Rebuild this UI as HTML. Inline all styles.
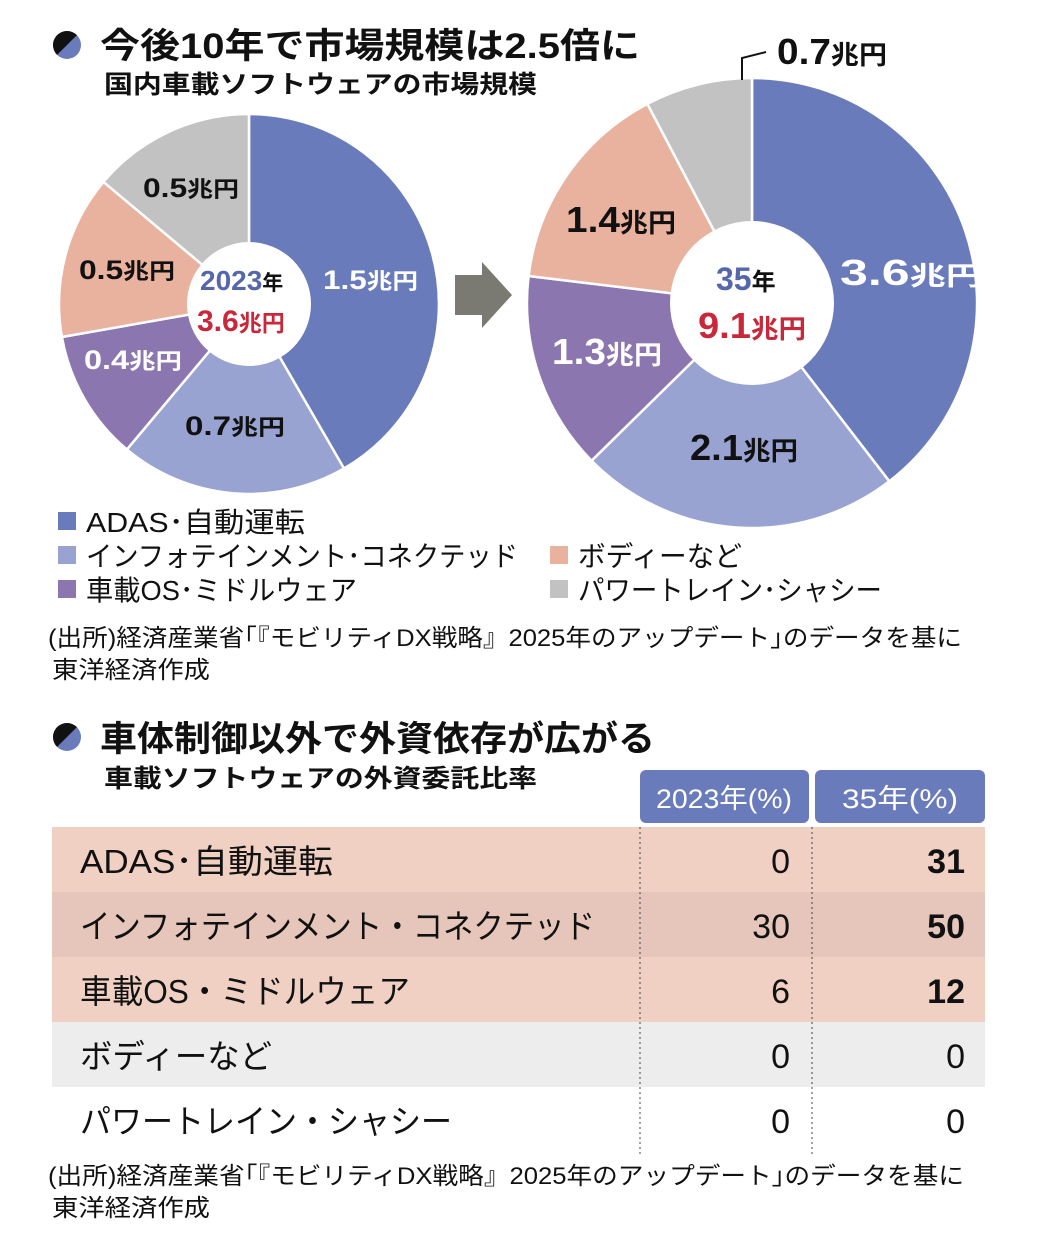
<!DOCTYPE html>
<html><head><meta charset="utf-8"><style>
html,body{margin:0;padding:0;background:#fff;}
body{width:1040px;height:1252px;overflow:hidden;}
svg text{font-family:"Liberation Sans","Noto Sans CJK JP",sans-serif;}
</style></head><body>
<svg width="1040" height="1252" viewBox="0 0 1040 1252" xmlns="http://www.w3.org/2000/svg">
<circle cx="67" cy="45" r="14" fill="#6a7bbb"/>
<path d="M57.1,54.9 A14,14 0 0 1 76.9,35.1 Z" fill="#111"/>
<text x="100" y="58" font-size="35" font-weight="bold" fill="#111" textLength="540" lengthAdjust="spacingAndGlyphs">今後10年で市場規模は2.5倍に</text>
<text x="104" y="93" font-size="25" font-weight="bold" fill="#111" textLength="433" lengthAdjust="spacingAndGlyphs">国内車載ソフトウェアの市場規模</text>

<g stroke="#fff" stroke-width="2.5">
<path d="M249,304 L249,114 A190,190 0 0 1 344,468.5 Z" fill="#6a7bbb"/>
<path d="M249,304 L344,468.5 A190,190 0 0 1 126.9,449.5 Z" fill="#98a3d2"/>
<path d="M249,304 L126.9,449.5 A190,190 0 0 1 61.9,337 Z" fill="#8c76b0"/>
<path d="M249,304 L61.9,337 A190,190 0 0 1 103.5,181.9 Z" fill="#e8b29f"/>
<path d="M249,304 L103.5,181.9 A190,190 0 0 1 249,114 Z" fill="#c2c2c2"/>
</g>
<circle cx="249" cy="304" r="62" fill="#fff"/>
<text x="200" y="290" font-size="28" font-weight="bold" fill="#5566aa">2023<tspan font-size="21" fill="#111">年</tspan></text>
<text x="197" y="331" font-size="30" font-weight="bold" fill="#c8283a">3.6<tspan font-size="23">兆円</tspan></text>
<g font-size="27" font-weight="bold">
<text x="323" y="289" fill="#fff" textLength="95" lengthAdjust="spacingAndGlyphs">1.5<tspan font-size="22">兆円</tspan></text>
<text x="185" y="435" fill="#111" textLength="100" lengthAdjust="spacingAndGlyphs">0.7<tspan font-size="22">兆円</tspan></text>
<text x="84" y="369" fill="#fff" textLength="98" lengthAdjust="spacingAndGlyphs">0.4<tspan font-size="22">兆円</tspan></text>
<text x="79" y="279" fill="#111" textLength="96" lengthAdjust="spacingAndGlyphs">0.5<tspan font-size="22">兆円</tspan></text>
<text x="143" y="197" fill="#111" textLength="96" lengthAdjust="spacingAndGlyphs">0.5<tspan font-size="22">兆円</tspan></text>
</g>

<path d="M455,275 L482,275 L482,262 L512,295 L482,328 L482,315 L455,315 Z" fill="#7a7a72"/>

<g stroke="#fff" stroke-width="2.5">
<path d="M752,303 L752,78 A225,225 0 0 1 889.3,481.3 Z" fill="#6a7bbb"/>
<path d="M752,303 L889.3,481.3 A225,225 0 0 1 591.6,460.7 Z" fill="#98a3d2"/>
<path d="M752,303 L591.6,460.7 A225,225 0 0 1 528.6,276 Z" fill="#8c76b0"/>
<path d="M752,303 L528.6,276 A225,225 0 0 1 647.4,103.9 Z" fill="#e8b29f"/>
<path d="M752,303 L647.4,103.9 A225,225 0 0 1 752,78 Z" fill="#c2c2c2"/>
</g>
<circle cx="752" cy="303" r="82" fill="#fff"/>
<text x="716" y="290" font-size="32" font-weight="bold" fill="#5566aa">35<tspan font-size="24" fill="#111">年</tspan></text>
<text x="698" y="338" font-size="36" font-weight="bold" fill="#c8283a" textLength="108" lengthAdjust="spacingAndGlyphs">9.1<tspan font-size="26">兆円</tspan></text>
<g font-size="36" font-weight="bold">
<text x="840" y="285" fill="#fff" textLength="142" lengthAdjust="spacingAndGlyphs">3.6<tspan font-size="26">兆円</tspan></text>
<text x="690" y="460" fill="#111" textLength="108" lengthAdjust="spacingAndGlyphs">2.1<tspan font-size="26">兆円</tspan></text>
<text x="552" y="364" fill="#fff" textLength="110" lengthAdjust="spacingAndGlyphs">1.3<tspan font-size="26">兆円</tspan></text>
<text x="566" y="232" fill="#111" textLength="110" lengthAdjust="spacingAndGlyphs">1.4<tspan font-size="26">兆円</tspan></text>
<text x="777" y="64" fill="#111" textLength="110" lengthAdjust="spacingAndGlyphs">0.7<tspan font-size="26">兆円</tspan></text>
</g>
<path d="M742,80 L742,58 L766,52" fill="none" stroke="#111" stroke-width="2"/>

<g font-size="28" fill="#111">
<rect x="58" y="512" width="18" height="18" fill="#6a7bbb"/><text x="86" y="532" textLength="219" lengthAdjust="spacingAndGlyphs">ADAS･自動運転</text>
<rect x="58" y="546" width="18" height="18" fill="#98a3d2"/><text x="86" y="566" textLength="432" lengthAdjust="spacingAndGlyphs">インフォテインメント･コネクテッド</text>
<rect x="58" y="580" width="18" height="18" fill="#8c76b0"/><text x="86" y="600" textLength="271" lengthAdjust="spacingAndGlyphs">車載OS･ミドルウェア</text>
<rect x="550" y="546" width="18" height="18" fill="#e8b29f"/><text x="578" y="566" textLength="164" lengthAdjust="spacingAndGlyphs">ボディーなど</text>
<rect x="550" y="580" width="18" height="18" fill="#c2c2c2"/><text x="578" y="600" textLength="304" lengthAdjust="spacingAndGlyphs">パワートレイン･シャシー</text>
</g>
<g font-size="24" fill="#111">
<text x="48" y="646" textLength="914" lengthAdjust="spacingAndGlyphs">(出所)経済産業省｢『モビリティDX戦略』2025年のアップデート｣のデータを基に</text>
<text x="52" y="678" textLength="158" lengthAdjust="spacingAndGlyphs">東洋経済作成</text>
</g>

<circle cx="67" cy="737" r="14" fill="#6a7bbb"/>
<path d="M57.1,746.9 A14,14 0 0 1 76.9,727.1 Z" fill="#111"/>
<text x="100" y="751" font-size="35" font-weight="bold" fill="#111" textLength="555" lengthAdjust="spacingAndGlyphs">車体制御以外で外資依存が広がる</text>
<text x="104" y="787" font-size="25" font-weight="bold" fill="#111" textLength="433" lengthAdjust="spacingAndGlyphs">車載ソフトウェアの外資委託比率</text>

<rect x="640" y="770" width="169" height="53" rx="6" fill="#6a7bbb"/>
<rect x="815" y="770" width="170" height="53" rx="6" fill="#6a7bbb"/>
<text x="724" y="808" font-size="27" fill="#fff" text-anchor="middle" textLength="136" lengthAdjust="spacingAndGlyphs">2023年(%)</text>
<text x="900" y="808" font-size="27" fill="#fff" text-anchor="middle" textLength="116" lengthAdjust="spacingAndGlyphs">35年(%)</text>
<rect x="52" y="827" width="933" height="65" fill="#f0d0c3"/>
<rect x="52" y="892" width="933" height="65" fill="#e6c6ba"/>
<rect x="52" y="957" width="933" height="65" fill="#f0d0c3"/>
<rect x="52" y="1022" width="933" height="65" fill="#ededed"/>
<line x1="640" y1="827" x2="640" y2="1155" stroke="#444" stroke-width="1" stroke-dasharray="2,3"/>
<line x1="812" y1="827" x2="812" y2="1155" stroke="#444" stroke-width="1" stroke-dasharray="2,3"/>
<g font-size="33" fill="#111">
<text x="80" y="873" textLength="253" lengthAdjust="spacingAndGlyphs">ADAS･自動運転</text>
<text x="80" y="938" textLength="515" lengthAdjust="spacingAndGlyphs">インフォテインメント・コネクテッド</text>
<text x="80" y="1003" textLength="330" lengthAdjust="spacingAndGlyphs">車載OS・ミドルウェア</text>
<text x="80" y="1068" textLength="192" lengthAdjust="spacingAndGlyphs">ボディーなど</text>
<text x="80" y="1133" textLength="372" lengthAdjust="spacingAndGlyphs">パワートレイン・シャシー</text>
</g>
<g font-size="34" fill="#111" text-anchor="end">
<text x="790" y="873">0</text><text x="790" y="938">30</text><text x="790" y="1003">6</text><text x="790" y="1068">0</text><text x="790" y="1133">0</text>
</g>
<g font-size="34" fill="#111" text-anchor="end" font-weight="bold">
<text x="965" y="873">31</text><text x="965" y="938">50</text><text x="965" y="1003">12</text>
</g>
<g font-size="34" fill="#111" text-anchor="end">
<text x="965" y="1068">0</text><text x="965" y="1133">0</text>
</g>
<g font-size="24" fill="#111">
<text x="48" y="1184" textLength="916" lengthAdjust="spacingAndGlyphs">(出所)経済産業省｢『モビリティDX戦略』2025年のアップデート｣のデータを基に</text>
<text x="52" y="1216" textLength="158" lengthAdjust="spacingAndGlyphs">東洋経済作成</text>
</g>
</svg>
</body></html>
